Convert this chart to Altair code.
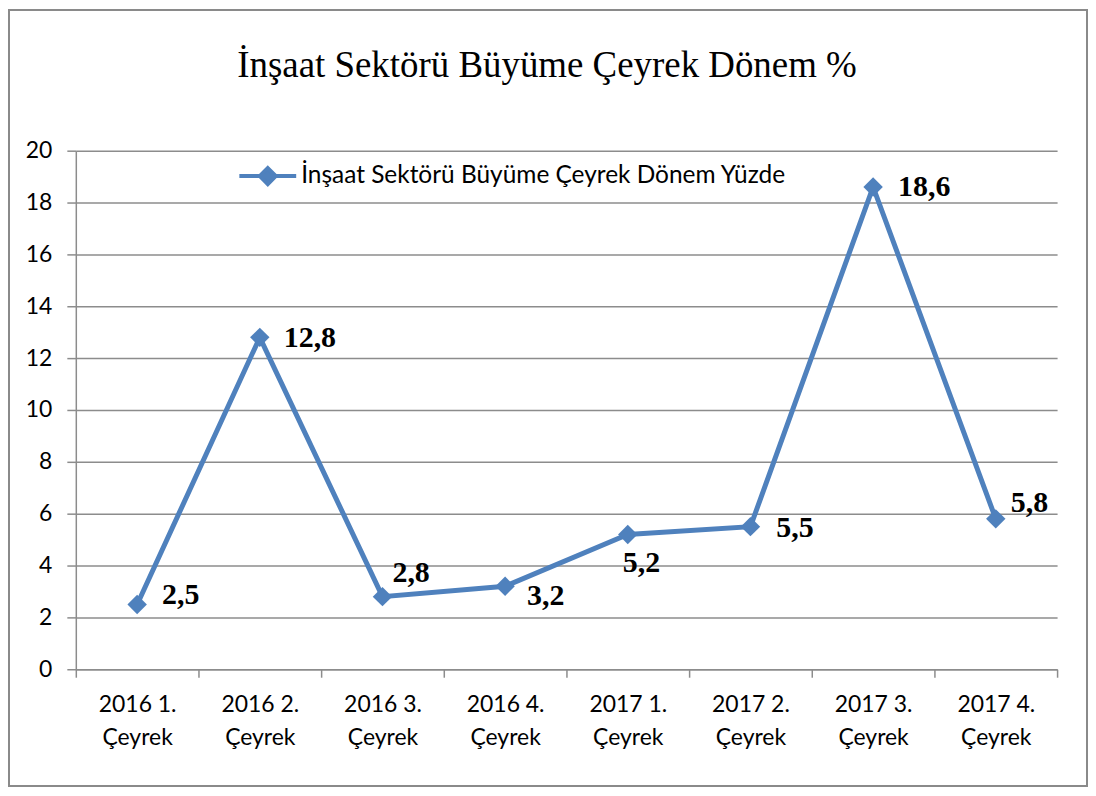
import altair as alt
import pandas as pd

categories = ["2016 1. Çeyrek", "2016 2. Çeyrek", "2016 3. Çeyrek", "2016 4. Çeyrek",
              "2017 1. Çeyrek", "2017 2. Çeyrek", "2017 3. Çeyrek", "2017 4. Çeyrek"]
values = [2.5, 12.8, 2.8, 3.2, 5.2, 5.5, 18.6, 5.8]
series_name = "İnşaat Sektörü Büyüme Çeyrek Dönem Yüzde"
title_text = "İnşaat Sektörü Büyüme Çeyrek Dönem %"
y_ticks = list(range(0, 21, 2))

# label placement (style, not data): (dx, dy) in px per point
label_offsets = [(25, 0), (24, 10), (10, -15), (22, 19), (-5, 38), (26, 10), (25, 9), (15, -7)]

BLUE = "#4F81BD"
GREY = "#8c8c8c"

df = pd.DataFrame({"cat": categories, "value": values,
                   "series": [series_name] * len(categories),
                   "idx": list(range(len(categories)))})

x_enc = alt.X("cat:N", sort=categories, bandPosition=0.5,
              scale=alt.Scale(type="band", paddingInner=0, paddingOuter=0),
              axis=alt.Axis(title=None, labelAngle=0, grid=False,
                            labelExpr="[substring(datum.label,0,7), substring(datum.label,8)]",
                            tickBand="extent", tickSize=8, tickColor=GREY, tickWidth=1.5,
                            domainColor=GREY, domainWidth=1.5,
                            labelFont="Lato", labelFontSize=23, labelColor="black",
                            labelPadding=16, labelLineHeight=33))
y_enc = alt.Y("value:Q", scale=alt.Scale(domain=[0, 20], nice=False),
              axis=alt.Axis(title=None, values=y_ticks, grid=True, gridColor=GREY, gridWidth=1.5,
                            domainColor=GREY, domainWidth=1.5, tickColor=GREY, tickWidth=1.5,
                            tickSize=9, labelFont="Lato", labelFontSize=23, labelColor="black",
                            labelPadding=15))

base = alt.Chart(df)

border = alt.Chart(pd.DataFrame({"k": [0]})).mark_rect(
    fillOpacity=0, stroke="#8a8a8a", strokeWidth=2
).encode(x=alt.value(-67), x2=alt.value(1014), y=alt.value(-141), y2=alt.value(637))

legend_path = "M-1,0L1,0M0,-0.28L0.28,0L0,0.28L-0.28,0Z"

line = base.mark_line(strokeWidth=5).encode(
    x=x_enc, y=y_enc,
    color=alt.Color("series:N", scale=alt.Scale(domain=[series_name], range=[BLUE]),
                    legend=alt.Legend(title=None, orient="none", legendX=162, legendY=-5,
                                      symbolType=legend_path, symbolSize=3249,
                                      symbolStrokeWidth=4, symbolFillColor=BLUE,
                                      labelFont="Lato", labelFontSize=24.5, labelColor="black",
                                      labelOffset=3, labelLimit=0, padding=0))
)

points = base.mark_point(shape="diamond", filled=True, size=380, color=BLUE, opacity=1).encode(
    x=x_enc, y=y_enc
)

label_layers = []
for i, (dx, dy) in enumerate(label_offsets):
    label_layers.append(
        base.transform_filter(alt.datum.idx == i)
        .transform_calculate(label="replace(format(datum.value, '.1f'), '.', ',')")
        .mark_text(font="Liberation Serif", fontSize=30, fontWeight="bold", color="black",
                   align="left", baseline="alphabetic", dx=dx, dy=dy)
        .encode(x=x_enc, y=y_enc, text="label:N")
    )

chart = alt.layer(border, line, points, *label_layers).properties(
    width=984, height=520,
    padding={"left": 68, "top": 142, "right": 31, "bottom": 118},
    autosize=alt.AutoSizeParams(type="none"),
    title=alt.TitleParams(title_text, font="Liberation Serif", fontSize=37, fontWeight="normal",
                          color="black", anchor="middle", dx=-19.5, offset=-105,
                          baseline="alphabetic"),
    background="white",
).configure_view(stroke=None)

chart.save("out.html", embed_options={"renderer": "svg", "actions": False})
